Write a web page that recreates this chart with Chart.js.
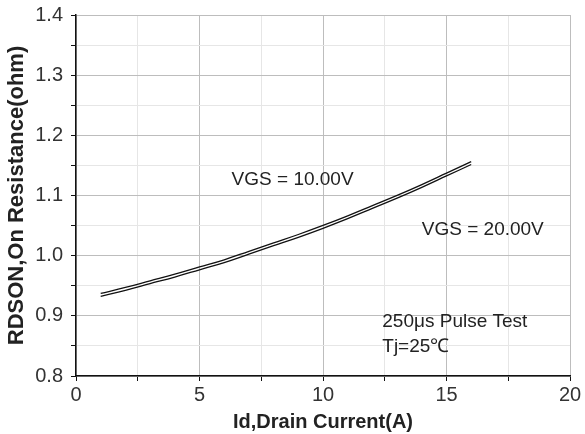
<!DOCTYPE html>
<html>
<head>
<meta charset="utf-8">
<script src="https://cdn.jsdelivr.net/npm/chart.js@4/dist/chart.umd.min.js"></script>
<style>
    html, body { margin: 0; padding: 0; background: #fff; }
    #wrap { width: 585px; height: 434px; position: relative; }
</style>
</head>
<body>
<div id="wrap"><canvas id="rdsonChart"></canvas></div>
<script>
// Drain current (A) and on-resistance readings for both gate voltages
const drainCurrent = [1, 2, 3, 4, 5, 6, 7, 8, 9, 10, 11, 12, 13, 14, 15, 16];
const rdsonVgs10 = [0.9372, 0.9472, 0.9582, 0.9692, 0.9812, 0.9932, 1.0072, 1.0212, 1.0352, 1.0502, 1.0662, 1.0832, 1.1002, 1.1182, 1.1372, 1.1562];
const rdsonVgs20 = [0.9325, 0.9425, 0.9535, 0.9645, 0.9765, 0.9885, 1.0025, 1.0165, 1.0305, 1.0455, 1.0615, 1.0785, 1.0955, 1.1135, 1.1325, 1.1515];
const xTicks = [0, 5, 10, 15, 20];
const yTicks = [0.8, 0.9, 1.0, 1.1, 1.2, 1.3, 1.4];

// Text notes placed in data coordinates
const notes = [
    { text: 'VGS = 10.00V', x: 6.3, y: 1.126 },
    { text: 'VGS = 20.00V', x: 14.0, y: 1.043 },
    { text: '250\u03bcs Pulse Test', x: 12.4, y: 0.890 },
    { text: 'Tj=25\u2103', x: 12.4, y: 0.848 },
];

const FONT = "'Liberation Sans', Arial, sans-serif";

const notesPlugin = {
    id: 'notes',
    afterDatasetsDraw(chart) {
        const ctx = chart.ctx;
        const xs = chart.scales.x, ys = chart.scales.y;
        ctx.save();
        ctx.font = '19px ' + FONT;
        ctx.fillStyle = '#222';
        ctx.textBaseline = 'middle';
        ctx.textAlign = 'left';
        notes.forEach(n => {
            ctx.fillText(n.text, xs.getPixelForValue(n.x), ys.getPixelForValue(n.y));
        });
        ctx.restore();
    }
};

function isMajor(v, list) {
    return list.some(t => Math.abs(t - v) < 1e-6);
}

const toPoints = (ys) => drainCurrent.map((x, i) => ({ x: x, y: ys[i] }));

new Chart(document.getElementById('rdsonChart').getContext('2d'), {
    type: 'line',
    data: {
        datasets: [
            {
                label: 'VGS = 10.00V',
                data: toPoints(rdsonVgs10),
                borderColor: '#111',
                borderWidth: 1.3,
                pointRadius: 0,
                fill: false,
                tension: 0.4,
            },
            {
                label: 'VGS = 20.00V',
                data: toPoints(rdsonVgs20),
                borderColor: '#111',
                borderWidth: 1.3,
                pointRadius: 0,
                fill: false,
                tension: 0.4,
            },
        ],
    },
    options: {
        responsive: true,
        maintainAspectRatio: false,
        animation: false,
        layout: { padding: { top: 15, right: 15, left: 0, bottom: 0 } },
        scales: {
            x: {
                type: 'linear',
                min: 0,
                max: 20,
                afterFit: (s) => { s.height = 58; s.paddingLeft = 0; s.paddingRight = 0; },
                border: { color: '#111', width: 1.5 },
                grid: {
                    color: (c) => isMajor(c.tick.value, xTicks) ? '#bdbdbd' : '#e6e6e6',
                    tickColor: '#111',
                    tickLength: 5,
                },
                ticks: {
                    stepSize: 2.5,
                    color: '#333',
                    padding: 2,
                    font: { size: 20, family: FONT },
                    callback: (v) => isMajor(v, xTicks) ? String(v) : '',
                    maxRotation: 0,
                    autoSkip: false,
                },
                title: {
                    display: true,
                    text: 'Id,Drain Current(A)',
                    color: '#222',
                    padding: { top: -8, bottom: 0 },
                    font: { size: 20, weight: 'bold', family: FONT },
                },
            },
            y: {
                min: 0.8,
                max: 1.4,
                afterFit: (s) => { s.width = 76; s.paddingTop = 0; s.paddingBottom = 0; },
                border: { color: '#111', width: 1.5 },
                grid: {
                    color: (c) => isMajor(c.tick.value, yTicks) ? '#bdbdbd' : '#e6e6e6',
                    tickColor: '#111',
                    tickLength: 5,
                },
                ticks: {
                    stepSize: 0.05,
                    color: '#333',
                    padding: 8,
                    font: { size: 20, family: FONT },
                    callback: (v) => isMajor(v, yTicks) ? v.toFixed(1) : '',
                    autoSkip: false,
                },
                title: {
                    display: true,
                    text: 'RDSON,On Resistance(ohm)',
                    color: '#222',
                    padding: { top: 4, bottom: 0 },
                    font: { size: 22, weight: 'bold', family: FONT },
                },
            },
        },
        plugins: {
            legend: { display: false },
            tooltip: { enabled: false },
        },
    },
    plugins: [notesPlugin],
});
</script>
</body>
</html>
